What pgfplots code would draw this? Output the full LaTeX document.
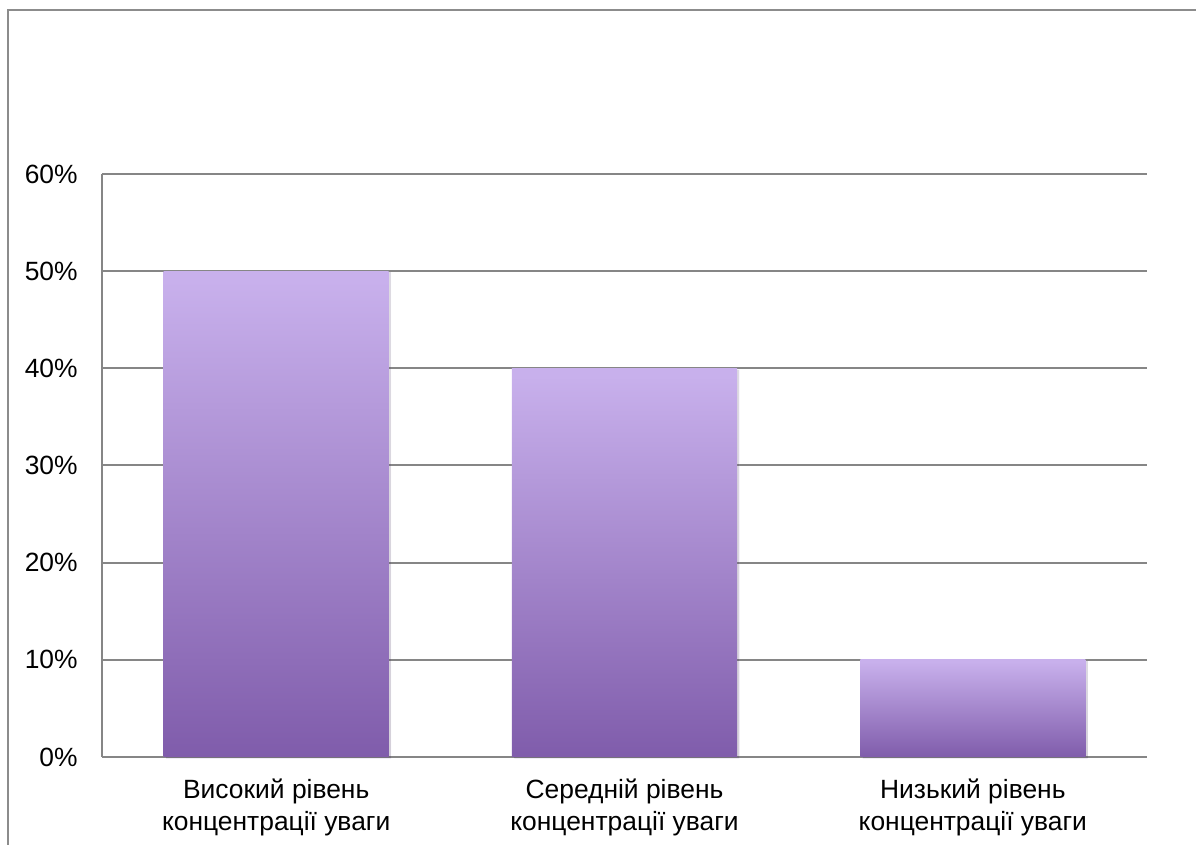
\documentclass[border=0pt]{standalone}
\usepackage{fontspec}
\setmainfont{Liberation Sans}
\usepackage{pgfplots}
\pgfplotsset{compat=1.18}
\usetikzlibrary{shadows}

\definecolor{barlight}{RGB}{200,176,236}
\definecolor{bardark}{RGB}{123,87,167}
\definecolor{gridgray}{RGB}{134,134,134}
\definecolor{framegray}{RGB}{140,140,140}

% light at the top, dark at the bottom, stretched over each bar
\pgfdeclareverticalshading{barshade}{100bp}{%
  color(0bp)=(bardark); color(22bp)=(bardark);
  color(74bp)=(barlight); color(100bp)=(barlight)}

\begin{document}
\begin{tikzpicture}
% page = 598pt x 422.5pt  (2 px per pt)
\useasboundingbox (0,0) rectangle (598pt,422.5pt);
\draw[framegray, line width=1pt] (4pt,-2pt) |- (600pt,417.5pt);

\begin{axis}[
  at={(51pt,44pt)}, anchor=south west,
  scale only axis,
  width=522.5pt, height=291.5pt,
  xmin=-0.5, xmax=2.5,
  ymin=0, ymax=60,
  ytick={0,10,20,30,40,50,60},
  yticklabels={0\%,10\%,20\%,30\%,40\%,50\%,60\%},
  xtick={0,1,2},
  xticklabels={
    {Високий рівень\\концентрації уваги},
    {Середній рівень\\концентрації уваги},
    {Низький рівень\\концентрації уваги}},
  major tick length=0pt,
  axis x line*=bottom,
  axis y line*=left,
  axis line style={gridgray, line width=1pt},
  ymajorgrids,
  grid style={gridgray, line width=1pt},
  tick label style={font=\fontsize{13.2}{16}\selectfont, black},
  yticklabel style={inner sep=0pt, xshift=-12pt},
  xticklabel style={align=center, inner sep=0pt, anchor=north, yshift=-11pt},
  clip=false,
  barstyle/.style={ybar, bar shift=0pt, bar width=0.646, draw=none, mark=none,
    shading=barshade,
    drop shadow={shadow xshift=1.2pt, shadow yshift=-0.6pt, opacity=0.12, fill=black}},
]
% one plot per bar, so each bar gets its own gradient
\addplot[barstyle] coordinates {(0,50)};
\addplot[barstyle] coordinates {(1,40)};
\addplot[barstyle] coordinates {(2,10)};
\end{axis}
\end{tikzpicture}
\end{document}
